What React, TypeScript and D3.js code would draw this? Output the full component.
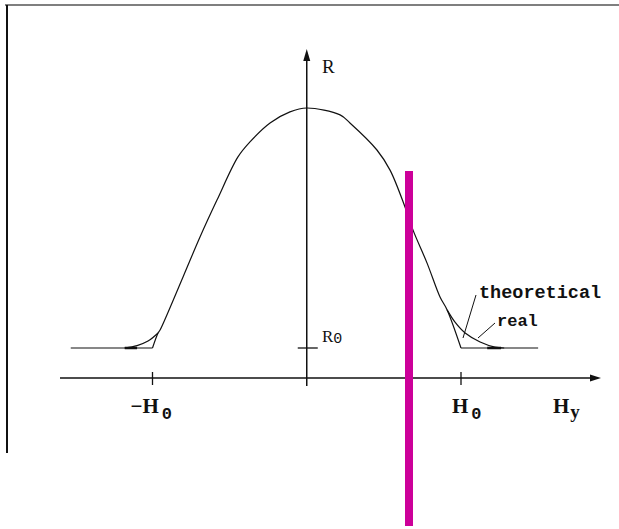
import React from "react";
import * as d3 from "d3";

// Field axis Hy in units of H0, response R in units of R0
const hyTheory = [-1.53, -1.0, -0.964, -0.951, -0.802, -0.692, -0.582, -0.446, -0.368, -0.238, -0.109, 0.0, 0.216, 0.28, 0.455, 0.54, 0.637, 0.689, 0.78, 0.864, 0.91, 1.0, 1.5];
const rTheory = [1, 1, 1.5, 1.6, 3.37, 4.7, 5.93, 7.37, 7.87, 8.5, 8.87, 9.0, 8.77, 8.5, 7.6, 6.93, 5.7, 4.93, 3.83, 2.7, 2.27, 1, 1];

// Rounded "real" edges near ±H0
const hyRealLeft = [-1.18, -1.1, -1.029, -0.964];
const rRealLeft = [1, 1.08, 1.23, 1.5];
const hyRealRight = [0.91, 0.96, 1.027, 1.124, 1.22, 1.28];
const rRealRight = [2.27, 1.87, 1.5, 1.2, 1.03, 1];

const xTickValues = [-1, 1];
const xTickLabels = ["−H", "H"];
const r0Value = 1;

const W = 619;
const H = 529;

type Pt = [number, number];

export default function App() {
  const x = d3.scaleLinear().domain([-1, 1]).range([152.5, 461]);
  const y = d3.scaleLinear().domain([0, 9]).range([378, 108]);

  const straight = d3.line<Pt>().x((d) => x(d[0])).y((d) => y(d[1])).curve(d3.curveLinear);
  const smooth = d3.line<Pt>().x((d) => x(d[0])).y((d) => y(d[1])).curve(d3.curveCatmullRom.alpha(0.5));

  const pts: Pt[] = hyTheory.map((h, i) => [h, rTheory[i]]);
  const n = pts.length;
  // flat wings are straight; the hump between the corners at ±H0 is smoothed
  const theoryFlatL = straight(pts.slice(0, 2)) || "";
  const theoryArc = smooth(pts.slice(1, n - 1)) || "";
  const theoryFlatR = straight(pts.slice(n - 2)) || "";
  const realL = smooth(hyRealLeft.map((h, i) => [h, rRealLeft[i]]) as Pt[]) || "";
  const realR = smooth(hyRealRight.map((h, i) => [h, rRealRight[i]]) as Pt[]) || "";

  const x0 = x(0);
  const yAxis = y(0);
  const yR0 = y(r0Value);
  const serif = "'Liberation Serif', 'DejaVu Serif', serif";
  const mono = "'Liberation Mono', 'DejaVu Sans Mono', monospace";

  return (
    <svg
      width={W}
      height={H}
      viewBox={`0 0 ${W} ${H}`}
      style={{ position: "absolute", left: 0, top: 0, background: "#fff" }}
    >
      {/* frame */}
      <line x1={5} y1={5} x2={619} y2={5} stroke="#555" strokeWidth={1.5} />
      <line x1={7} y1={5} x2={7} y2={453} stroke="#111" strokeWidth={2} />

      {/* x axis */}
      <line x1={60} y1={yAxis} x2={594} y2={yAxis} stroke="#111" strokeWidth={1.5} />
      <path d={`M601,${yAxis} L590,${yAxis - 3.5} L590,${yAxis + 3.5} Z`} fill="#111" />
      {/* y axis */}
      <line x1={x0} y1={56} x2={x0} y2={386} stroke="#111" strokeWidth={1.5} />
      <path d={`M${x0},49 L${x0 - 3.5},61 L${x0 + 3.5},61 Z`} fill="#111" />

      {/* ticks */}
      {xTickValues.map((v) => (
        <line key={v} x1={x(v)} y1={yAxis - 6} x2={x(v)} y2={yAxis + 7} stroke="#111" strokeWidth={1.3} />
      ))}
      <line x1={x0 - 9} y1={yR0} x2={x0 + 11} y2={yR0} stroke="#111" strokeWidth={1.3} />

      {/* curves */}
      <path d={theoryFlatL} fill="none" stroke="#111" strokeWidth={1.2} />
      <path d={theoryArc} fill="none" stroke="#111" strokeWidth={1.2} />
      <path d={theoryFlatR} fill="none" stroke="#111" strokeWidth={1.2} />
      <path d={realL} fill="none" stroke="#111" strokeWidth={1.2} />
      <path d={realR} fill="none" stroke="#111" strokeWidth={1.2} />
      <line x1={x(-1.18)} y1={yR0} x2={x(-1.1)} y2={yR0} stroke="#111" strokeWidth={2.5} />
      <line x1={x(1.17)} y1={yR0} x2={x(1.26)} y2={yR0} stroke="#111" strokeWidth={2.5} />

      {/* leaders */}
      <line x1={476} y1={295} x2={463} y2={338} stroke="#111" strokeWidth={1} />
      <line x1={495} y1={323} x2={478} y2={338} stroke="#111" strokeWidth={1} />

      {/* labels */}
      <text x={322} y={73} fontFamily={serif} fontSize={19} fill="#111">R</text>
      <text x={322} y={342} fontFamily={serif} fontSize={17} fill="#111">
        R<tspan fontFamily={mono} fontSize={15} dy={1}>0</tspan>
      </text>
      {xTickValues.map((v, i) => (
        <text
          key={v}
          x={v < 0 ? x(v) - 22 : x(v) - 9}
          y={413}
          fontFamily={serif}
          fontWeight="bold"
          fontSize={21}
          fill="#111"
        >
          {xTickLabels[i]}
          <tspan fontFamily={mono} fontSize={17} dx={3} dy={6}>0</tspan>
        </text>
      ))}
      <text x={553} y={413} fontFamily={serif} fontWeight="bold" fontSize={21} fill="#111">
        H<tspan fontSize={19} dx={1} dy={5}>y</tspan>
      </text>
      <text x={479} y={298} fontFamily={mono} fontWeight="bold" fontSize={18.5} fill="#111">theoretical</text>
      <text x={497} y={326} fontFamily={mono} fontWeight="bold" fontSize={17} fill="#111">real</text>

      {/* marker bar */}
      <rect x={405} y={171} width={8} height={355} fill="#cc0099" />
    </svg>
  );
}
